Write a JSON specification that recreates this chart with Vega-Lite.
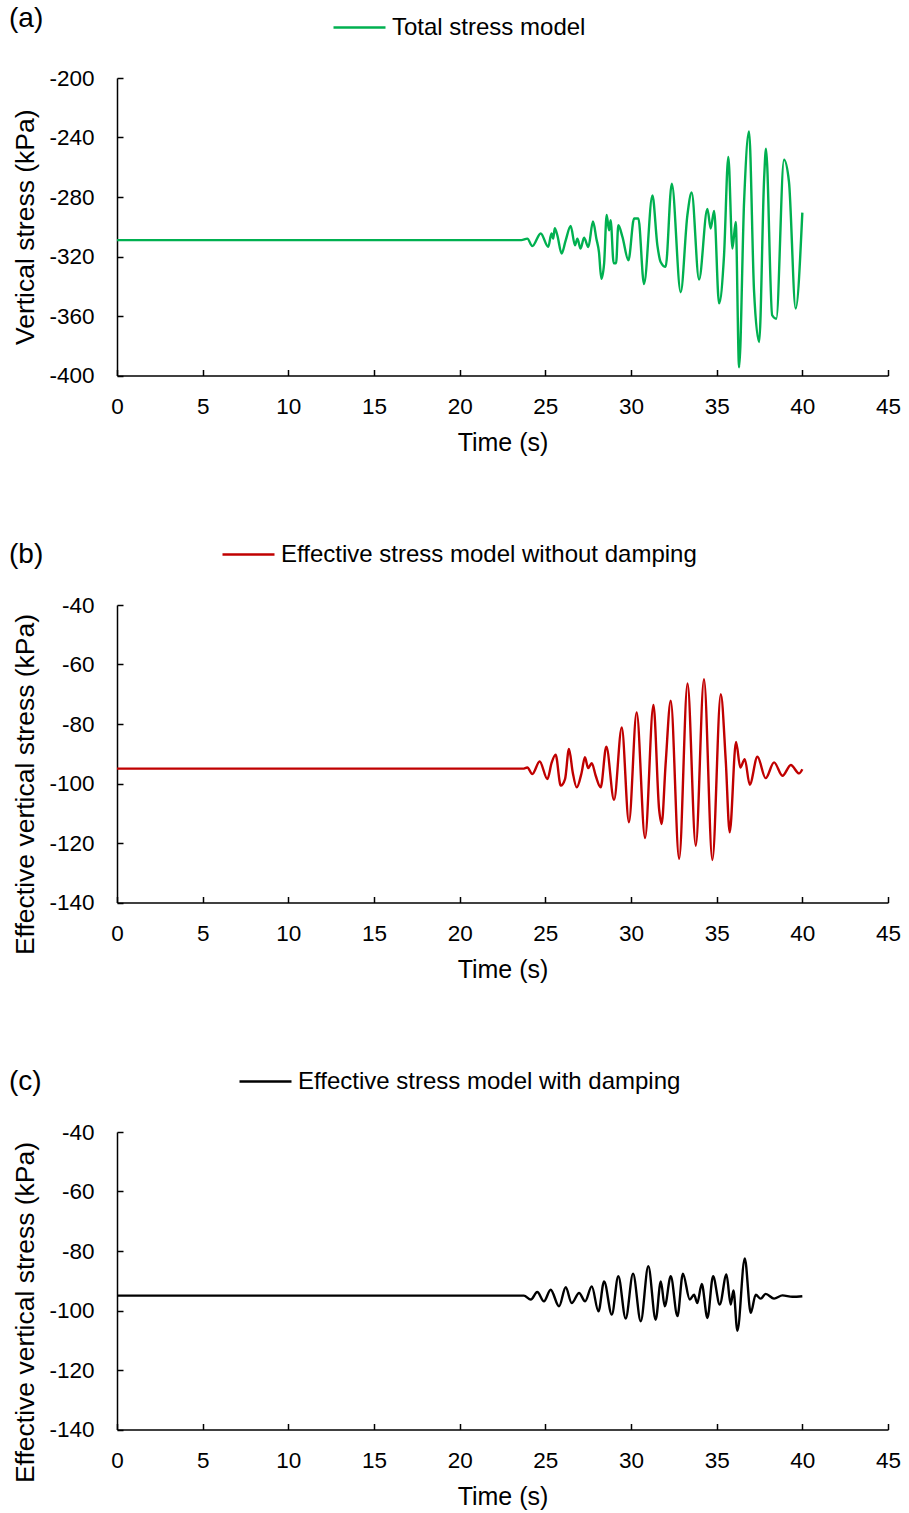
{
  "$schema": "https://vega.github.io/schema/vega-lite/v6.json",
  "background": "white",
  "padding": {"left": 9, "top": 0, "right": 5, "bottom": 3},
  "datasets": {
    "total": [
      {"t": 0, "v": -309, "model": "Total stress model"},
      {"t": 23.6, "v": -309, "model": "Total stress model"},
      {"t": 23.95, "v": -308, "model": "Total stress model"},
      {"t": 24.24, "v": -313, "model": "Total stress model"},
      {"t": 24.73, "v": -304.5, "model": "Total stress model"},
      {"t": 25.17, "v": -313.5, "model": "Total stress model"},
      {"t": 25.36, "v": -304.5, "model": "Total stress model"},
      {"t": 25.46, "v": -308, "model": "Total stress model"},
      {"t": 25.55, "v": -301, "model": "Total stress model"},
      {"t": 25.7, "v": -305.7, "model": "Total stress model"},
      {"t": 25.95, "v": -318, "model": "Total stress model"},
      {"t": 26.18, "v": -309.5, "model": "Total stress model"},
      {"t": 26.48, "v": -299.5, "model": "Total stress model"},
      {"t": 26.73, "v": -312.5, "model": "Total stress model"},
      {"t": 26.87, "v": -308, "model": "Total stress model"},
      {"t": 27.06, "v": -314.7, "model": "Total stress model"},
      {"t": 27.26, "v": -307.3, "model": "Total stress model"},
      {"t": 27.51, "v": -313.6, "model": "Total stress model"},
      {"t": 27.78, "v": -296.5, "model": "Total stress model"},
      {"t": 27.98, "v": -308, "model": "Total stress model"},
      {"t": 28.13, "v": -317, "model": "Total stress model"},
      {"t": 28.27, "v": -335, "model": "Total stress model"},
      {"t": 28.43, "v": -324.8, "model": "Total stress model"},
      {"t": 28.58, "v": -292, "model": "Total stress model"},
      {"t": 28.72, "v": -302.4, "model": "Total stress model"},
      {"t": 28.81, "v": -295.6, "model": "Total stress model"},
      {"t": 28.99, "v": -324.5, "model": "Total stress model"},
      {"t": 29.13, "v": -324.5, "model": "Total stress model"},
      {"t": 29.26, "v": -299, "model": "Total stress model"},
      {"t": 29.5, "v": -306.8, "model": "Total stress model"},
      {"t": 29.85, "v": -322.5, "model": "Total stress model"},
      {"t": 30.18, "v": -294.5, "model": "Total stress model"},
      {"t": 30.43, "v": -294.5, "model": "Total stress model"},
      {"t": 30.76, "v": -338.5, "model": "Total stress model"},
      {"t": 31.25, "v": -279, "model": "Total stress model"},
      {"t": 31.54, "v": -312.5, "model": "Total stress model"},
      {"t": 31.73, "v": -323.7, "model": "Total stress model"},
      {"t": 32.02, "v": -327, "model": "Total stress model"},
      {"t": 32.38, "v": -271, "model": "Total stress model"},
      {"t": 32.9, "v": -344, "model": "Total stress model"},
      {"t": 33.29, "v": -292.3, "model": "Total stress model"},
      {"t": 33.54, "v": -277, "model": "Total stress model"},
      {"t": 33.97, "v": -335.5, "model": "Total stress model"},
      {"t": 34.46, "v": -288, "model": "Total stress model"},
      {"t": 34.65, "v": -301.2, "model": "Total stress model"},
      {"t": 34.85, "v": -289.3, "model": "Total stress model"},
      {"t": 35.14, "v": -351.5, "model": "Total stress model"},
      {"t": 35.43, "v": -319.2, "model": "Total stress model"},
      {"t": 35.68, "v": -253, "model": "Total stress model"},
      {"t": 35.92, "v": -314.7, "model": "Total stress model"},
      {"t": 36.11, "v": -296.7, "model": "Total stress model"},
      {"t": 36.31, "v": -394.5, "model": "Total stress model"},
      {"t": 36.6, "v": -283.3, "model": "Total stress model"},
      {"t": 36.89, "v": -236, "model": "Total stress model"},
      {"t": 37.18, "v": -342.8, "model": "Total stress model"},
      {"t": 37.48, "v": -377.5, "model": "Total stress model"},
      {"t": 37.77, "v": -267.6, "model": "Total stress model"},
      {"t": 37.88, "v": -247.5, "model": "Total stress model"},
      {"t": 38.24, "v": -359.5, "model": "Total stress model"},
      {"t": 38.48, "v": -361.8, "model": "Total stress model"},
      {"t": 38.93, "v": -255, "model": "Total stress model"},
      {"t": 39.22, "v": -269.8, "model": "Total stress model"},
      {"t": 39.61, "v": -355, "model": "Total stress model"},
      {"t": 40.0, "v": -290.5, "model": "Total stress model"}
    ],
    "undamped": [
      {"t": 0, "v": -95, "model": "Effective stress model without damping"},
      {"t": 23.7, "v": -95, "model": "Effective stress model without damping"},
      {"t": 23.95, "v": -94.6, "model": "Effective stress model without damping"},
      {"t": 24.24, "v": -96.8, "model": "Effective stress model without damping"},
      {"t": 24.67, "v": -92.6, "model": "Effective stress model without damping"},
      {"t": 25.12, "v": -98.5, "model": "Effective stress model without damping"},
      {"t": 25.37, "v": -93, "model": "Effective stress model without damping"},
      {"t": 25.6, "v": -90.3, "model": "Effective stress model without damping"},
      {"t": 25.9, "v": -100.7, "model": "Effective stress model without damping"},
      {"t": 26.15, "v": -98.5, "model": "Effective stress model without damping"},
      {"t": 26.38, "v": -88.4, "model": "Effective stress model without damping"},
      {"t": 26.6, "v": -96.3, "model": "Effective stress model without damping"},
      {"t": 26.83, "v": -101.3, "model": "Effective stress model without damping"},
      {"t": 27.12, "v": -96.3, "model": "Effective stress model without damping"},
      {"t": 27.31, "v": -91.2, "model": "Effective stress model without damping"},
      {"t": 27.5, "v": -94.8, "model": "Effective stress model without damping"},
      {"t": 27.71, "v": -93.2, "model": "Effective stress model without damping"},
      {"t": 27.94, "v": -97.4, "model": "Effective stress model without damping"},
      {"t": 28.23, "v": -101.3, "model": "Effective stress model without damping"},
      {"t": 28.56, "v": -87.6, "model": "Effective stress model without damping"},
      {"t": 29.01, "v": -105.5, "model": "Effective stress model without damping"},
      {"t": 29.46, "v": -81.2, "model": "Effective stress model without damping"},
      {"t": 29.88, "v": -113, "model": "Effective stress model without damping"},
      {"t": 30.33, "v": -76.1, "model": "Effective stress model without damping"},
      {"t": 30.82, "v": -118.3, "model": "Effective stress model without damping"},
      {"t": 31.31, "v": -73.6, "model": "Effective stress model without damping"},
      {"t": 31.64, "v": -108.6, "model": "Effective stress model without damping"},
      {"t": 31.79, "v": -113.6, "model": "Effective stress model without damping"},
      {"t": 32.02, "v": -93.5, "model": "Effective stress model without damping"},
      {"t": 32.32, "v": -72.2, "model": "Effective stress model without damping"},
      {"t": 32.81, "v": -125.3, "model": "Effective stress model without damping"},
      {"t": 33.3, "v": -66.4, "model": "Effective stress model without damping"},
      {"t": 33.78, "v": -120.9, "model": "Effective stress model without damping"},
      {"t": 34.26, "v": -64.9, "model": "Effective stress model without damping"},
      {"t": 34.75, "v": -125.7, "model": "Effective stress model without damping"},
      {"t": 35.24, "v": -70, "model": "Effective stress model without damping"},
      {"t": 35.53, "v": -92.3, "model": "Effective stress model without damping"},
      {"t": 35.76, "v": -116.4, "model": "Effective stress model without damping"},
      {"t": 36.13, "v": -86, "model": "Effective stress model without damping"},
      {"t": 36.38, "v": -94.6, "model": "Effective stress model without damping"},
      {"t": 36.64, "v": -91.8, "model": "Effective stress model without damping"},
      {"t": 36.93, "v": -100.4, "model": "Effective stress model without damping"},
      {"t": 37.38, "v": -91, "model": "Effective stress model without damping"},
      {"t": 37.86, "v": -98.2, "model": "Effective stress model without damping"},
      {"t": 38.35, "v": -92.9, "model": "Effective stress model without damping"},
      {"t": 38.84, "v": -97.4, "model": "Effective stress model without damping"},
      {"t": 39.33, "v": -93.8, "model": "Effective stress model without damping"},
      {"t": 39.81, "v": -96.6, "model": "Effective stress model without damping"},
      {"t": 40.0, "v": -95.2, "model": "Effective stress model without damping"}
    ],
    "damped": [
      {"t": 0, "v": -95, "model": "Effective stress model with damping"},
      {"t": 23.75, "v": -95, "model": "Effective stress model with damping"},
      {"t": 24.15, "v": -96.3, "model": "Effective stress model with damping"},
      {"t": 24.53, "v": -93.8, "model": "Effective stress model with damping"},
      {"t": 24.92, "v": -96.9, "model": "Effective stress model with damping"},
      {"t": 25.31, "v": -93, "model": "Effective stress model with damping"},
      {"t": 25.8, "v": -98.6, "model": "Effective stress model with damping"},
      {"t": 26.19, "v": -92.2, "model": "Effective stress model with damping"},
      {"t": 26.54, "v": -97.5, "model": "Effective stress model with damping"},
      {"t": 26.97, "v": -94.1, "model": "Effective stress model with damping"},
      {"t": 27.32, "v": -96.9, "model": "Effective stress model with damping"},
      {"t": 27.71, "v": -91.9, "model": "Effective stress model with damping"},
      {"t": 28.1, "v": -100.3, "model": "Effective stress model with damping"},
      {"t": 28.43, "v": -90.2, "model": "Effective stress model with damping"},
      {"t": 28.88, "v": -101.4, "model": "Effective stress model with damping"},
      {"t": 29.26, "v": -88.5, "model": "Effective stress model with damping"},
      {"t": 29.69, "v": -102.7, "model": "Effective stress model with damping"},
      {"t": 30.12, "v": -87.6, "model": "Effective stress model with damping"},
      {"t": 30.57, "v": -103.6, "model": "Effective stress model with damping"},
      {"t": 31.01, "v": -85.1, "model": "Effective stress model with damping"},
      {"t": 31.44, "v": -103.1, "model": "Effective stress model with damping"},
      {"t": 31.74, "v": -90.2, "model": "Effective stress model with damping"},
      {"t": 31.97, "v": -98.6, "model": "Effective stress model with damping"},
      {"t": 32.32, "v": -88.5, "model": "Effective stress model with damping"},
      {"t": 32.71, "v": -101.9, "model": "Effective stress model with damping"},
      {"t": 33.03, "v": -87.6, "model": "Effective stress model with damping"},
      {"t": 33.43, "v": -96.3, "model": "Effective stress model with damping"},
      {"t": 33.68, "v": -94.7, "model": "Effective stress model with damping"},
      {"t": 33.87, "v": -97.5, "model": "Effective stress model with damping"},
      {"t": 34.13, "v": -91.1, "model": "Effective stress model with damping"},
      {"t": 34.46, "v": -102.5, "model": "Effective stress model with damping"},
      {"t": 34.79, "v": -88.5, "model": "Effective stress model with damping"},
      {"t": 35.18, "v": -98, "model": "Effective stress model with damping"},
      {"t": 35.57, "v": -87.9, "model": "Effective stress model with damping"},
      {"t": 35.82, "v": -98, "model": "Effective stress model with damping"},
      {"t": 35.98, "v": -93.3, "model": "Effective stress model with damping"},
      {"t": 36.21, "v": -106.8, "model": "Effective stress model with damping"},
      {"t": 36.64, "v": -82.5, "model": "Effective stress model with damping"},
      {"t": 36.99, "v": -100.8, "model": "Effective stress model with damping"},
      {"t": 37.28, "v": -94.7, "model": "Effective stress model with damping"},
      {"t": 37.57, "v": -96, "model": "Effective stress model with damping"},
      {"t": 37.86, "v": -94.4, "model": "Effective stress model with damping"},
      {"t": 38.35, "v": -96, "model": "Effective stress model with damping"},
      {"t": 38.84, "v": -94.9, "model": "Effective stress model with damping"},
      {"t": 39.42, "v": -95.4, "model": "Effective stress model with damping"},
      {"t": 40.0, "v": -95.2, "model": "Effective stress model with damping"}
    ]
  },
  "bounds": "flush",
  "spacing": 229,
  "resolve": {"scale": {"color": "independent", "y": "independent"}, "legend": {"color": "independent"}},
  "vconcat": [
    {
      "width": 771,
      "height": 297.5,
      "title": {"text": "(a)", "dx": -108, "dy": 37},
      "data": {"name": "total"},
      "mark": {"type": "line", "interpolate": "monotone", "strokeWidth": 2.4},
      "encoding": {
        "x": {"field": "t", "type": "quantitative", "scale": {"domain": [0, 45], "nice": false},
              "axis": {"title": "Time (s)", "values": [0, 5, 10, 15, 20, 25, 30, 35, 40, 45]}},
        "y": {"field": "v", "type": "quantitative", "scale": {"domain": [-400, -200], "nice": false, "zero": false},
              "axis": {"title": "Vertical stress (kPa)", "values": [-400, -360, -320, -280, -240, -200], "titlePadding": 9}},
        "color": {"field": "model", "type": "nominal",
                  "scale": {"domain": ["Total stress model"], "range": ["#00B050"]},
                  "legend": {"legendX": 215, "legendY": -78}}
      }
    },
    {
      "width": 771,
      "height": 297.5,
      "title": {"text": "(b)", "dx": -108, "dy": 46},
      "data": {"name": "undamped"},
      "mark": {"type": "line", "interpolate": "monotone", "strokeWidth": 2.4},
      "encoding": {
        "x": {"field": "t", "type": "quantitative", "scale": {"domain": [0, 45], "nice": false},
              "axis": {"title": "Time (s)", "values": [0, 5, 10, 15, 20, 25, 30, 35, 40, 45]}},
        "y": {"field": "v", "type": "quantitative", "scale": {"domain": [-140, -40], "nice": false, "zero": false},
              "axis": {"title": "Effective vertical stress (kPa)", "values": [-140, -120, -100, -80, -60, -40], "titlePadding": 9, "titleY": 179}},
        "color": {"field": "model", "type": "nominal",
                  "scale": {"domain": ["Effective stress model without damping"], "range": ["#C00000"]},
                  "legend": {"legendX": 104, "legendY": -78}}
      }
    },
    {
      "width": 771,
      "height": 297.5,
      "title": {"text": "(c)", "dx": -108, "dy": 46},
      "data": {"name": "damped"},
      "mark": {"type": "line", "interpolate": "monotone", "strokeWidth": 2.4},
      "encoding": {
        "x": {"field": "t", "type": "quantitative", "scale": {"domain": [0, 45], "nice": false},
              "axis": {"title": "Time (s)", "values": [0, 5, 10, 15, 20, 25, 30, 35, 40, 45]}},
        "y": {"field": "v", "type": "quantitative", "scale": {"domain": [-140, -40], "nice": false, "zero": false},
              "axis": {"title": "Effective vertical stress (kPa)", "values": [-140, -120, -100, -80, -60, -40], "titlePadding": 9, "titleY": 180}},
        "color": {"field": "model", "type": "nominal",
                  "scale": {"domain": ["Effective stress model with damping"], "range": ["#000000"]},
                  "legend": {"legendX": 121, "legendY": -78}}
      }
    }
  ],
  "config": {
    "font": "Liberation Sans",
    "view": {"stroke": null},
    "axis": {
      "grid": false,
      "domainColor": "#000000",
      "domainWidth": 1.5,
      "tickColor": "#000000",
      "tickWidth": 1.5,
      "tickSize": -6,
      "labelFont": "Liberation Sans",
      "labelFontSize": 22.5,
      "labelColor": "#000000",
      "labelOverlap": false,
      "labelFlush": false,
      "labelExpr": "'' + datum.value",
      "titleFont": "Liberation Sans",
      "titleFontWeight": "normal",
      "titleColor": "#000000"
    },
    "axisX": {"labelPadding": 26, "titlePadding": 12, "titleFontSize": 25},
    "axisY": {"labelPadding": 29, "titleFontSize": 26.5},
    "legend": {
      "orient": "none",
      "title": null,
      "padding": 0,
      "symbolType": "stroke",
      "symbolSize": 2704,
      "symbolStrokeWidth": 2.4,
      "labelFont": "Liberation Sans",
      "labelFontSize": 24,
      "labelColor": "#000000",
      "labelOffset": 5,
      "labelLimit": 0
    },
    "title": {
      "anchor": "start",
      "frame": "group",
      "font": "Liberation Sans",
      "fontSize": 28,
      "fontWeight": "normal",
      "color": "#000000",
      "offset": 0,
      "baseline": "alphabetic"
    }
  }
}
